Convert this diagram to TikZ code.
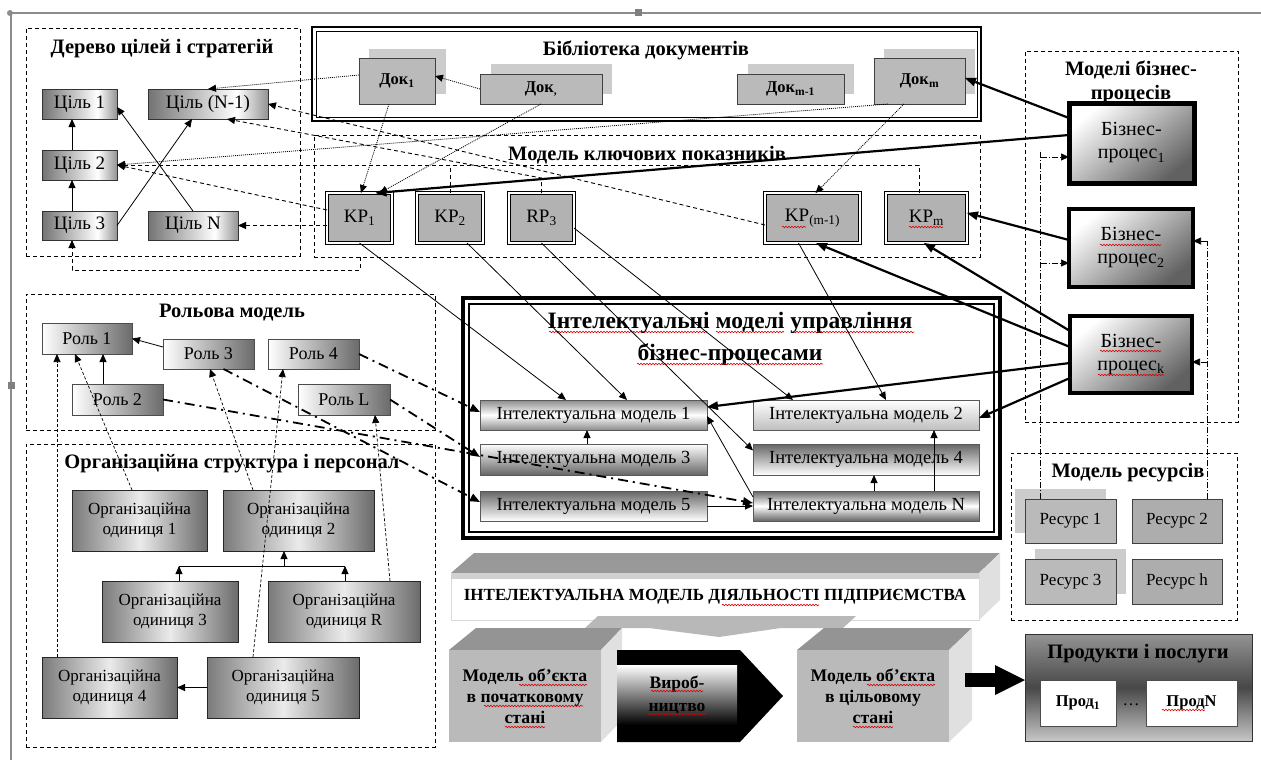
\documentclass[tikz,border=0pt]{standalone}
\usepackage{fontspec}
\setmainfont{Liberation Serif}
\usetikzlibrary{arrows.meta,decorations.pathmorphing}
\colorlet{gdarkA}{black!55}
\colorlet{gdarkB}{black!42}
\pgfdeclarehorizontalshading{goalsh}{100bp}{color(0bp)=(gdarkA); color(25bp)=(gdarkA); color(62bp)=(white); color(75bp)=(gdarkB); color(100bp)=(gdarkB)}
\begin{document}
\begin{tikzpicture}[x=1pt,y=-1pt,
  every node/.style={inner sep=0pt, outer sep=0pt},
  sz/.style 2 args={minimum width=#1pt, minimum height=#2pt},
  cont/.style={draw, line width=0.9pt, dash pattern=on 4pt off 3pt},
  ttl/.style={font=\bfseries\fontsize{20.5}{24}\selectfont, align=center},
  txt/.style={font=\fontsize{17}{20}\selectfont, align=center},
  goal/.style={draw=black!80, line width=0.8pt, shade, shading=goalsh, font=\fontsize{19}{22}\selectfont},
  role/.style={draw=black!70, line width=0.8pt, left color=white, right color=black!58, font=\fontsize{18}{21}\selectfont},
  org/.style={draw=black!85, line width=0.8pt, left color=black!52, right color=black!58, middle color=black!8, txt},
  doc/.style={draw=black!75, line width=0.8pt, fill=black!27, font=\bfseries\fontsize{16.5}{19}\selectfont},
  shd/.style={fill=black!20},
  kp/.style={draw, line width=1pt, double=white, double distance=1.6pt, fill=black!30, font=\fontsize{19}{22}\selectfont},
  bp/.style={draw, line width=3.5pt, top color=white, bottom color=black!62, shading angle=40, font=\fontsize{20}{23}\selectfont, align=center},
  im/.style={draw=black!65, line width=0.8pt, font=\fontsize{18.5}{21}\selectfont},
  res/.style={draw=black!75, line width=0.8pt, fill=black!27, txt},
  tip/.style={-{Triangle[length=8pt,width=7pt]}},
  sol/.style={line width=0.8pt, tip},
  dsh/.style={line width=0.9pt, dash pattern=on 4pt off 3pt, tip},
  dsf/.style={line width=0.7pt, dash pattern=on 3pt off 2pt, tip},
  dtt/.style={line width=0.8pt, dash pattern=on 1pt off 1pt, tip},
  ddl/.style={line width=1.8pt, dash pattern=on 10pt off 5pt on 2pt off 5pt, -{Triangle[length=10pt,width=8pt]}},
  ddt/.style={line width=0.7pt, dash pattern=on 6pt off 2pt on 1pt off 2pt, tip},
  thk/.style={line width=2.2pt, -{Triangle[length=11pt,width=9pt,line width=0pt]}},
  bt/.style={font=\bfseries\fontsize{17.7}{21}\selectfont, align=center},
  wav/.style={red!85!black, line width=0.6pt, decorate, decoration={snake, amplitude=0.8pt, segment length=3pt}}
]
\useasboundingbox (0,0) rectangle (1261,760);

% frame artifacts
\draw[black!45, line width=1.2pt] (10,13) -- (1261,13);
\draw[black!45, line width=1.2pt] (11,13) -- (11,760);
\fill[black!45] (10,13) circle (3pt);
\fill[black!50] (634.5,9.5) rectangle (641.5,16.5);
\fill[black!50] (7.5,381.5) rectangle (14.5,388.5);

% containers
\node[cont, sz={274}{228}] (goalbox) at (163,142) {};
\node[cont, sz={666}{122}] (kpbox) at (647,196) {};
\node[cont, sz={213}{371}] (bpbox) at (1131.5,236.5) {};
\node[cont, sz={409}{136}] (rolebox) at (230.5,362) {};
\node[cont, sz={409}{303}] (orgbox) at (230.5,595.5) {};
\node[cont, sz={226}{167}] (resbox) at (1124,536.5) {};

\node[draw, line width=2.2pt, sz={669}{94}] (lib) at (646.5,74) {};
\draw[line width=0.8pt] ([shift={(4,4)}]lib.north west) rectangle ([shift={(-4,-4)}]lib.south east);

\node[draw, line width=3.5pt, sz={537}{240}] (imbox) at (731.5,418) {};
\draw[line width=1.2pt] ([shift={(6,6)}]imbox.north west) rectangle ([shift={(-6,-6)}]imbox.south east);

% titles
\node[ttl] (goalttl) at (162,49) {Дерево цілей і стратегій};
\node[ttl] (libttl) at (646,50) {Бібліотека документів};
\node[ttl] (kpttl) at (647,155) {Модель ключових показників};
\node[ttl] (bpttl) at (1131,82) {Моделі бізнес-\\процесів};
\node[ttl, font=\bfseries\fontsize{23.5}{32}\selectfont] (imttl) at (730,339) {Інтелектуальні моделі управління\\бізнес-процесами};
\node[ttl] (rolettl) at (232,313) {Рольова модель};
\node[ttl] (orgttl) at (232,464) {Організаційна структура і персонал};
\node[ttl] (resttl) at (1128,473) {Модель ресурсів};

% goals
\node[goal, sz={75}{30}] (g1) at (79.5,104) {Ціль 1\hspace{4pt}};
\node[goal, sz={120}{30}] (gN1) at (208,104) {Ціль (N-1)\hspace{20pt}};
\node[goal, sz={75}{30}] (g2) at (79.5,165) {Ціль 2\hspace{4pt}};
\node[goal, sz={75}{29}] (g3) at (79.5,225.5) {Ціль 3\hspace{4pt}};
\node[goal, sz={90}{29}] (gN) at (193,225.5) {Ціль N\hspace{14pt}};

% documents
\fill[shd] (369,49) rectangle (446,94);
\node[doc, sz={76}{46}] (d1) at (397,81) {Док\textsubscript{1}};
\fill[shd] (491,64) rectangle (612,94);
\node[doc, sz={122}{30}] (d2) at (541,89) {Док\textsubscript{,}};
\fill[shd] (748,64) rectangle (854,94);
\node[doc, sz={107}{30}] (dm1) at (790.5,89) {Док\textsubscript{m-1}};
\fill[shd] (884,49) rectangle (975,94);
\node[doc, sz={91}{46}] (dm) at (919.5,81) {Док\textsubscript{m}};

% key indicators
\node[kp, sz={65}{50}] (kp1) at (359.5,218) {KP\textsubscript{1}};
\node[kp, sz={66}{50}] (kp2) at (450,218) {KP\textsubscript{2}};
\node[kp, sz={65}{50}] (rp3) at (541.5,218) {RP\textsubscript{3}};
\node[kp, sz={95}{50}] (kpm1) at (812.5,218) {KP\textsubscript{(m-1)}\hspace{8pt}};
\node[kp, sz={81}{50}] (kpm) at (926.5,218) {KP\textsubscript{m}};

% business processes
\node[bp, line width=5pt, sz={125}{80}] (bp1) at (1131.5,143) {Бізнес-\\процес\textsubscript{1}};
\node[bp, sz={124}{78}] (bp2) at (1131,248) {Бізнес-\\процес\textsubscript{2}};
\node[bp, sz={122}{77}] (bpk) at (1131,354.5) {Бізнес-\\процес\textsubscript{k}};

% intellectual models
\node[im, top color=black!45, bottom color=black!45, middle color=white, sz={227}{30}] (im1) at (593.5,415) {Інтелектуальна модель 1};
\node[im, top color=white, bottom color=black!60, sz={227}{31}] (im3) at (593.5,459.5) {Інтелектуальна модель 3};
\node[im, top color=black!60, bottom color=white, sz={227}{30}] (im5) at (593.5,506) {Інтелектуальна модель 5};
\node[im, top color=white, bottom color=black!25, sz={226}{30}] (im2) at (866,415) {Інтелектуальна модель 2};
\node[im, top color=black!60, bottom color=white, sz={226}{31}] (im4) at (866,459.5) {Інтелектуальна модель 4};
\node[im, top color=black!60, bottom color=black!60, middle color=white, sz={226}{30}] (imN) at (866,506) {Інтелектуальна модель N};

% roles
\node[role, sz={90}{31}] (r1) at (87,338.5) {Роль 1\hspace{15pt}};
\node[role, sz={91}{30}] (r3) at (208.5,354) {Роль 3\hspace{15pt}};
\node[role, sz={91}{30}] (r4) at (313.5,354) {Роль 4\hspace{12pt}};
\node[role, sz={91}{31}] (r2) at (117.5,399.5) {Роль 2\hspace{15pt}};
\node[role, sz={92}{31}] (rL) at (344,399.5) {Роль L\hspace{12pt}};

% organisation
\node[org, sz={135}{61}] (o1) at (139.5,520.5) {Організаційна\\одиниця 1};
\node[org, sz={151}{61}] (o2) at (298.5,520.5) {Організаційна\\одиниця 2};
\node[org, sz={136}{61}] (o3) at (170,611.5) {Організаційна\\одиниця 3};
\node[org, sz={152}{61}] (oR) at (344,611.5) {Організаційна\\одиниця R};
\node[org, sz={135}{61}] (o4) at (109.5,687.5) {Організаційна\\одиниця 4};
\node[org, sz={152}{61}] (o5) at (283,687.5) {Організаційна\\одиниця 5};

% resources
\fill[shd] (1015,489) rectangle (1106,533);
\node[res, sz={91}{44}] (res1) at (1070.5,521) {Ресурс 1};
\node[res, fill=black!32, sz={90}{44}] (res2) at (1177,521) {Ресурс 2};
\fill[shd] (1035,549) rectangle (1126,594);
\node[res, sz={91}{45}] (res3) at (1070.5,581.5) {Ресурс 3};
\node[res, fill=black!32, sz={90}{45}] (resh) at (1177,581.5) {Ресурс h};

% bottom: enterprise model bar
\fill[black!40] (451,573) -- (474,553) -- (1000,553) -- (979,573) -- cycle;
\fill[black!12] (979,573) -- (1000,553) -- (1000,600) -- (979,620) -- cycle;
\node[fill=white, draw=black!15, sz={528}{47}, font=\bfseries\fontsize{17}{20}\selectfont] (bar) at (715,596.5) {ІНТЕЛЕКТУАЛЬНА МОДЕЛЬ ДІЯЛЬНОСТІ ПІДПРИЄМСТВА};
\fill[black!18] (451,573) rectangle (979,579);
\fill[black!28] (585,628) -- (598,616) -- (856,616) -- (843,628) -- (781,628) -- (719,637) -- (649,628) -- cycle;

% object boxes
\fill[black!42] (449,650) -- (476,628) -- (622,628) -- (601,650) -- cycle;
\fill[black!12] (601,650) -- (622,628) -- (622,720) -- (601,742) -- cycle;
\node[fill=black!27, sz={152}{92}, bt] (objA) at (525,696) {Модель об’єкта\\в початковому\\стані};
\fill[black!42] (797,650) -- (824,628) -- (972,628) -- (949,650) -- cycle;
\fill[black!12] (949,650) -- (972,628) -- (972,720) -- (949,742) -- cycle;
\node[fill=black!27, sz={152}{92}, bt] (objB) at (873,696) {Модель об’єкта\\в цільовому\\стані};

\fill[black] (617,650) -- (740,650) -- (783,696) -- (740,742) -- (617,742) -- cycle;
\node[top color=white, bottom color=black, sz={120}{60}, font=\bfseries\fontsize{17.5}{23}\selectfont, align=center] (vyr) at (677,695) {Вироб-\\ництво};

% products
\node[draw=black!80, line width=0.8pt, top color=black!42, bottom color=black!22, middle color=black!72, sz={227}{107}] (prod) at (1138.5,687.5) {};
\node[ttl] (prodttl) at (1138,654) {Продукти і послуги};
\node[draw=black!70, fill=white, sz={76}{46}, font=\bfseries\fontsize{16.5}{19}\selectfont] (p1) at (1078,703) {Прод\textsubscript{1}};
\node[draw=black!70, fill=white, sz={91}{46}, font=\bfseries\fontsize{16.5}{19}\selectfont] (pN) at (1191.5,703) {ПродN\hspace{14pt}};
\node[txt] (dots) at (1131,705) {\ldots};

% spell-check underlines as printed
\draw[wav] (549,332) -- (707,332);
\draw[wav] (716,332) -- (784,332);
\draw[wav] (793,332) -- (914,332);
\draw[wav] (637,364) -- (823,364);
\draw[wav] (1100,245) -- (1161,245);
\draw[wav] (1100,351) -- (1161,351);
\draw[wav] (1098,375) -- (1164,375);
\draw[wav] (782,227) -- (806,227);
\draw[wav] (909,227) -- (943,227);
\draw[wav] (722,605) -- (819,605);
\draw[wav] (519,685) -- (587,685);
\draw[wav] (484,706) -- (583,706);
\draw[wav] (505,727) -- (545,727);
\draw[wav] (867,685) -- (935,685);
\draw[wav] (853,727) -- (893,727);
\draw[wav] (651,691) -- (703,691);
\draw[wav] (647,714) -- (707,714);
\draw[wav] (1162,710) -- (1205,710);

% ---------- connectors ----------
% goal tree
\draw[sol] ([xshift=-7.5pt]g2.north) -- ([xshift=-7.5pt]g1.south);
\draw[sol] ([xshift=-7.5pt]g3.north) -- ([xshift=-7.5pt]g2.south);
\draw[sol] (g3.east) -- ([xshift=-16pt]gN1.south);
\draw[sol] (gN.north) -- ([yshift=-3pt]g1.east);

% dotted from documents
\draw[dtt] ([yshift=6pt]d1.west) -- (gN1.north);
\draw[dtt] (d2.west) -- ([yshift=5pt]d1.east);
\draw[dtt] ([xshift=-8pt]d1.south) -- ([xshift=1.5pt]kp1.north);
\draw[dtt] (d2.south) -- ([xshift=20pt]kp1.north);
\draw[dtt] ([xshift=-15.5pt]dm.south) -- ([xshift=3pt]kpm1.north);
\draw[dtt] ([xshift=-31.5pt]dm.south) -- (g2.east);

% dashed from indicators to goals
\draw[dsh] ([xshift=-7.5pt]kpm.north) |- (g2.east);
\draw[dsh,-] (kp2.north) -- (kp2.north |- g2.east);
\draw[dsh] ([yshift=8pt]kp1.west) -- (g2.east);
\draw[dsh] (kp1.west |- gN.east) -- (gN.east);
\draw[dsh] ([yshift=-7pt]kpm1.west) -- (gN1.east);
\coordinate (rpb) at (541.5,178);
\draw[dsh] (rp3.north) -- (rpb) -- ([xshift=19pt]gN1.south);
\coordinate (kpb) at (360,257);
\draw[dsh] (kpb) -- ++(0,13) -| ([xshift=-7.5pt]g3.south);

% roles to intellectual models
\draw[ddl] (r4.east) -- ([yshift=3pt]im1.west);
\draw[ddl] (rL.east) -- ([yshift=2.5pt]im3.west);
\draw[ddl] ([xshift=15pt]r3.south) -- ([yshift=4pt]im5.west);
\draw[ddl] (r2.east) -- ([yshift=3pt]imN.west);

% organisation units to roles
\draw[dsf] ([xshift=-52.5pt]o4.north) -- ([xshift=-30pt]r1.south);
\draw[dsf] ([xshift=-7.5pt]o1.north) -- ([xshift=-12pt]r1.south);
\draw[dsf] ([xshift=-45.5pt]o2.north) -- ([xshift=1.5pt]r3.south);
\draw[dsf] ([xshift=-30pt]o5.north) -- ([xshift=-30.5pt]r4.south);
\draw[dsf] ([xshift=46pt]oR.north) -- ([xshift=31pt]rL.south);

% roles
\draw[sol] ([xshift=-14.5pt]r2.north) -- ([xshift=16pt]r1.south);
\draw[sol] ([yshift=7pt]r3.west) -- (r1.east);

% organisation hierarchy
\coordinate (busL) at (179,566);
\coordinate (busR) at (345,566);
\coordinate (busM) at (284,566);
\draw[line width=0.8pt] (busL) -- (busR);
\draw[sol] ([xshift=9pt]o3.north) -- (busL);
\draw[sol] ([xshift=1pt]oR.north) -- (busR);
\draw[sol] (busM) -- (busM |- o2.south);
\draw[sol] (o5.west) -- (o4.east);

% indicators to intellectual models
\draw[sol] (kp1.south) -- ([xshift=-27.5pt]im1.north);
\draw[sol] ([xshift=17pt]kp2.south) -- ([xshift=33.5pt]im1.north);
\draw[sol] (rp3.south) -- ([yshift=9pt]im4.west);
\draw[sol] ([yshift=-10pt]rp3.east) -- ([xshift=-73pt]im2.north);
\draw[sol] ([xshift=-14pt]kpm1.south) -- ([xshift=20pt]im2.north);

% within intellectual models
\draw[sol] ([xshift=-6.5pt]im3.north) -- ([xshift=-6.5pt]im1.south);
\draw[sol] ([xshift=8pt]imN.north) -- ([xshift=8pt]im4.south);
\draw[sol] ([xshift=68pt]imN.north) -- ([xshift=68pt]im2.south);
\draw[sol] (im5.east) -- (imN.west);
\draw[sol] ([yshift=9pt]imN.west) -- ([yshift=-1pt]im1.east);

% business processes (thick)
\draw[thk] ([yshift=25pt]bp1.west) -- ([yshift=3pt]dm.east);
\draw[thk] ([yshift=8pt]bp1.west) -- ([xshift=16pt]kp1.north);
\draw[thk] ([yshift=8pt]bp2.west) -- ([yshift=5pt]kpm.east);
\draw[thk] ([yshift=23.5pt]bpk.west) -- ([xshift=-2.5pt]kpm.south);
\draw[thk] ([yshift=7.5pt]bpk.west) -- ([xshift=3.5pt]kpm1.south);
\draw[thk] ([yshift=-8.5pt]bpk.west) -- ([yshift=8pt]im1.east);
\draw[thk] ([yshift=-23.5pt]bpk.west) -- ([yshift=-3pt]im2.east);

% resources to business processes
\coordinate (rv1) at (1040.5,150);
\coordinate (j1) at (1040.5,157);
\coordinate (j2) at (1040.5,263);
\draw[ddt,-] ([xshift=-30pt]res1.north) -- (rv1);
\draw[ddt] (j1) -- (j1 -| bp1.west);
\draw[ddt] (j2) -- (j2 -| bp2.west);
\coordinate (j3) at (1207,241);
\coordinate (j4) at (1207,362);
\draw[ddt,-] ([xshift=30pt]res2.north) -- (j3);
\draw[ddt] (j3) -- (j3 -| bp2.east);
\draw[ddt] (j4) -- (j4 -| bpk.east);

% big arrow to products
\coordinate (arS) at (965,680);
\draw[line width=14pt, -{Triangle[length=30pt,width=30pt,line width=0pt]}] (arS) -- (arS -| prod.west);
\end{tikzpicture}
\end{document}
